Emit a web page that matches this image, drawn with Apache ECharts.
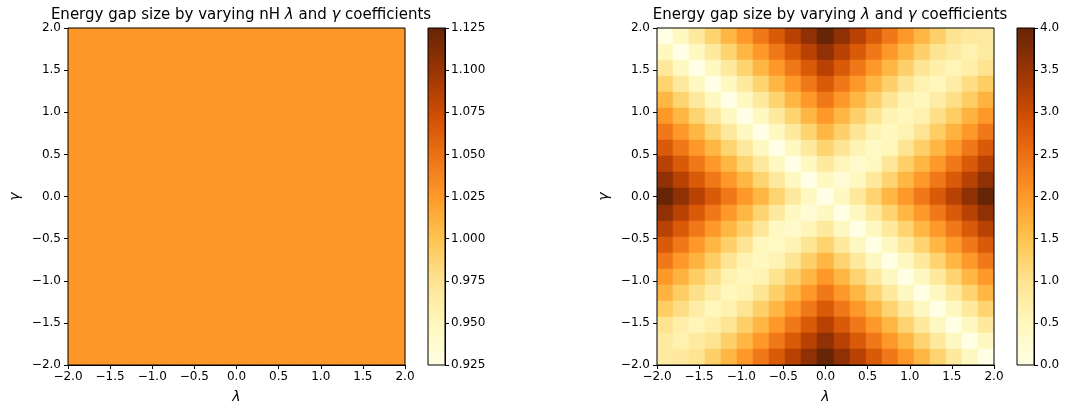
<!DOCTYPE html>
<html>
<head>
<meta charset="utf-8">
<script src="https://cdn.jsdelivr.net/npm/echarts@6/dist/echarts.min.js"></script>
<style>
  html, body { margin: 0; padding: 0; background: #ffffff; }
  #chart { width: 1072px; height: 404px; }
</style>
</head>
<body>
<div id="chart"></div>
<script>
// Coefficient range shared by both maps (cell edges at -2 and 2, 21 cells per side)
const coeffRange = [-2, 2];
const cellsPerSide = 21;
const axisTickValues = [-2.0, -1.5, -1.0, -0.5, 0.0, 0.5, 1.0, 1.5, 2.0];

// Colour bar scales
const nhBarTicks = [0.925, 0.950, 0.975, 1.000, 1.025, 1.050, 1.075, 1.100, 1.125];
const gapBarTicks = [0.0, 0.5, 1.0, 1.5, 2.0, 2.5, 3.0, 3.5, 4.0];

// Titles
const titleNH = 'Energy gap size by varying nH {i|λ} and {i|γ} coefficients';
const titleGap = 'Energy gap size by varying {i|λ} and {i|γ} coefficients';

// Gap of the nH model: rows run from γ = 2 (top) down to γ = -2, columns from λ = -2 to 2
const nhGapRows = [
  [1.026,1.026,1.026,1.026,1.026,1.026,1.026,1.026,1.026,1.026,1.026,1.026,1.026,1.026,1.026,1.026,1.026,1.026,1.026,1.026,1.026],
  [1.026,1.026,1.0257,1.026,1.026,1.026,1.026,1.026,1.0257,1.026,1.026,1.026,1.026,1.026,1.026,1.026,1.026,1.026,1.026,1.026,1.026],
  [1.026,1.026,1.026,1.026,1.0257,1.026,1.026,1.026,1.026,1.026,1.026,1.026,1.026,1.026,1.026,1.026,1.026,1.026,1.026,1.026,1.026],
  [1.026,1.026,1.026,1.026,1.026,1.026,1.026,1.026,1.026,1.026,1.026,1.026,1.026,1.026,1.026,1.026,1.026,1.026,1.026,1.026,1.026],
  [1.026,1.026,1.0257,1.026,1.026,1.026,1.026,1.026,1.026,1.026,1.026,1.026,1.0257,1.0257,1.026,1.026,1.026,1.026,1.026,1.026,1.026],
  [1.026,1.026,1.026,1.026,1.026,1.026,1.026,1.026,1.026,1.026,1.026,1.026,1.0257,1.026,1.026,1.026,1.026,1.026,1.026,1.026,1.026],
  [1.026,1.0257,1.026,1.026,1.026,1.0257,1.026,1.026,1.026,1.026,1.026,1.026,1.026,1.026,1.026,1.026,1.026,1.026,1.026,1.026,1.026],
  [1.026,1.026,1.026,1.026,1.026,1.026,1.026,1.026,1.026,1.026,1.026,1.026,1.026,1.026,1.026,1.026,1.026,1.026,1.026,1.026,1.026],
  [1.026,1.026,1.026,1.026,1.026,1.026,1.026,1.026,1.026,1.026,1.0257,1.026,1.026,1.026,1.026,1.026,1.026,1.026,1.026,1.026,1.026],
  [1.026,1.0257,1.026,1.026,1.0257,1.026,1.026,1.026,1.026,1.026,1.026,1.026,1.026,1.026,1.026,1.026,1.026,1.0257,1.026,1.026,1.026],
  [1.026,1.026,1.026,1.026,1.026,1.026,1.0257,1.026,1.026,1.026,1.026,1.026,1.026,1.026,1.026,1.026,1.026,1.026,1.026,1.026,1.026],
  [1.026,1.026,1.026,1.026,1.026,1.026,1.0257,1.026,1.026,1.026,1.026,1.026,1.026,1.026,1.026,1.026,1.026,1.026,1.026,1.026,1.026],
  [1.026,1.026,1.026,1.026,1.026,1.0257,1.026,1.026,1.026,1.026,1.026,1.026,1.026,1.026,1.026,1.026,1.026,1.026,1.026,1.026,1.026],
  [1.026,1.026,1.026,1.026,1.026,1.026,1.026,1.026,1.026,1.026,1.026,1.026,1.0257,1.0257,1.026,1.026,1.026,1.026,1.026,1.026,1.026],
  [1.026,1.026,1.026,1.026,1.026,1.026,1.026,1.026,1.026,1.026,1.026,1.026,1.0257,1.026,1.026,1.026,1.026,1.026,1.026,1.026,1.026],
  [1.026,1.026,1.026,1.026,1.026,1.026,1.026,1.0257,1.026,1.026,1.026,1.026,1.026,1.026,1.026,1.026,1.026,1.026,1.026,1.026,1.026],
  [1.026,1.026,1.026,1.026,1.026,1.026,1.026,1.026,1.0257,1.0257,1.026,1.026,1.026,1.026,1.026,1.026,1.026,1.026,1.026,1.026,1.026],
  [1.026,1.026,1.026,1.026,1.026,1.026,1.026,1.026,1.026,1.026,1.026,1.026,1.026,1.026,1.026,1.026,1.0257,1.026,1.026,1.026,1.026],
  [1.026,1.026,1.026,1.026,1.026,1.026,1.026,1.026,1.026,1.026,1.026,1.026,1.026,1.026,1.026,1.026,1.026,1.026,1.026,1.026,1.026],
  [1.026,1.026,1.026,1.026,1.026,1.026,1.026,1.026,1.026,1.026,1.026,1.026,1.026,1.026,1.026,1.026,1.026,1.026,1.026,1.026,1.026],
  [1.026,1.026,1.026,1.026,1.026,1.026,1.026,1.026,1.026,1.026,1.026,1.026,1.026,1.026,1.026,1.026,1.026,1.026,1.026,1.026,1.026]
];

// Gap of the λ/γ model: rows run from γ = 2 (top) down to γ = -2, columns from λ = -2 to 2
const gapRows = [
  [0.0,0.45,0.85,1.25,1.65,2.0,2.4,2.8,3.2,3.6,4.0,3.6,3.2,2.8,2.4,2.0,1.65,1.3,1.0,0.85,0.8],
  [0.45,0.0,0.45,0.85,1.25,1.65,2.0,2.4,2.8,3.2,3.6,3.2,2.8,2.4,2.0,1.65,1.3,1.0,0.8,0.65,0.8],
  [0.85,0.45,0.0,0.45,0.85,1.25,1.65,2.0,2.4,2.8,3.2,2.8,2.4,2.0,1.65,1.3,0.95,0.7,0.55,0.7,1.0],
  [1.25,0.85,0.45,0.0,0.45,0.85,1.25,1.65,2.0,2.4,2.8,2.4,2.0,1.65,1.3,0.95,0.65,0.5,0.75,1.1,1.35],
  [1.65,1.25,0.85,0.45,0.0,0.45,0.85,1.25,1.65,2.0,2.4,2.0,1.65,1.3,0.95,0.6,0.5,0.75,1.05,1.35,1.7],
  [2.0,1.65,1.25,0.85,0.45,0.0,0.45,0.85,1.25,1.65,2.0,1.65,1.3,1.0,0.6,0.5,0.65,1.05,1.35,1.7,2.0],
  [2.4,2.0,1.65,1.25,0.85,0.45,0.0,0.45,0.85,1.25,1.65,1.3,0.95,0.6,0.45,0.6,0.95,1.35,1.7,2.0,2.4],
  [2.8,2.4,2.0,1.65,1.25,0.85,0.45,0.0,0.45,0.85,1.25,0.95,0.6,0.4,0.5,0.95,1.3,1.65,2.0,2.4,2.8],
  [3.2,2.8,2.4,2.0,1.65,1.25,0.85,0.45,0.0,0.45,0.85,0.55,0.3,0.45,0.9,1.3,1.65,2.0,2.4,2.8,3.2],
  [3.6,3.2,2.8,2.4,2.0,1.65,1.25,0.85,0.45,0.0,0.45,0.2,0.45,0.85,1.25,1.65,2.0,2.4,2.8,3.2,3.6],
  [4.0,3.6,3.2,2.8,2.4,2.0,1.65,1.25,0.85,0.45,0.0,0.45,0.85,1.25,1.65,2.0,2.4,2.8,3.2,3.6,4.0],
  [3.6,3.2,2.8,2.4,2.0,1.65,1.25,0.85,0.45,0.2,0.45,0.0,0.45,0.85,1.25,1.65,2.0,2.4,2.8,3.2,3.6],
  [3.2,2.8,2.4,2.0,1.65,1.3,0.9,0.45,0.3,0.55,0.85,0.45,0.0,0.45,0.85,1.25,1.65,2.0,2.4,2.8,3.2],
  [2.8,2.4,2.0,1.65,1.3,0.95,0.5,0.4,0.6,0.95,1.25,0.85,0.45,0.0,0.45,0.85,1.25,1.65,2.0,2.4,2.8],
  [2.4,2.0,1.7,1.35,0.95,0.6,0.45,0.6,0.95,1.3,1.65,1.25,0.85,0.45,0.0,0.45,0.85,1.25,1.65,2.0,2.4],
  [2.0,1.7,1.35,1.05,0.65,0.5,0.6,1.0,1.3,1.65,2.0,1.65,1.25,0.85,0.45,0.0,0.45,0.85,1.25,1.65,2.0],
  [1.7,1.35,1.05,0.75,0.5,0.6,0.95,1.3,1.65,2.0,2.4,2.0,1.65,1.25,0.85,0.45,0.0,0.45,0.85,1.25,1.65],
  [1.35,1.1,0.75,0.5,0.65,0.95,1.3,1.65,2.0,2.4,2.8,2.4,2.0,1.65,1.25,0.85,0.45,0.0,0.45,0.85,1.25],
  [1.0,0.7,0.55,0.7,0.95,1.3,1.65,2.0,2.4,2.8,3.2,2.8,2.4,2.0,1.65,1.25,0.85,0.45,0.0,0.45,0.85],
  [0.8,0.65,0.8,1.0,1.3,1.65,2.0,2.4,2.8,3.2,3.6,3.2,2.8,2.4,2.0,1.65,1.25,0.85,0.45,0.0,0.45],
  [0.8,0.85,1.0,1.3,1.65,2.0,2.4,2.8,3.2,3.6,4.0,3.6,3.2,2.8,2.4,2.0,1.65,1.25,0.85,0.45,0.0]
];

// YlOrBr colour map, low to high
const ylOrBr = ['#ffffe5','#fff7bc','#fee391','#fec44f','#fe9929','#ec7014','#cc4c02','#993404','#662506'];

const FONT = '"DejaVu Sans", sans-serif';
const INK = '#000000';
const TICK_SIZE = 12;
const TITLE_SIZE = 15;
const NAME_SIZE = 14;

const cellSpan = (coeffRange[1] - coeffRange[0]) / cellsPerSide;
const halfCell = cellSpan / 2;

// Turn a row-major grid into [λ centre, γ centre, value] items
function toCells(rows) {
  const out = [];
  rows.forEach((row, r) => {
    const gamma = coeffRange[1] - (r + 0.5) * cellSpan;
    row.forEach((v, c) => {
      const lambda = coeffRange[0] + (c + 0.5) * cellSpan;
      out.push([lambda, gamma, v]);
    });
  });
  return out;
}

function cellRenderer(params, api) {
  const cx = api.value(0), cy = api.value(1);
  const a = api.coord([cx - halfCell, cy + halfCell]);
  const b = api.coord([cx + halfCell, cy - halfCell]);
  const x0 = Math.round(a[0]), y0 = Math.round(a[1]);
  const x1 = Math.round(b[0]), y1 = Math.round(b[1]);
  const color = api.visual('color');
  return {
    type: 'rect',
    shape: { x: x0, y: y0, width: x1 - x0, height: y1 - y0 },
    style: { fill: color, stroke: color, lineWidth: 0.5 }
  };
}

function colorbarRenderer(params, api) {
  const top = api.coord([0, api.value(2)]);
  const bottom = api.coord([1, api.value(1)]);
  const stops = ylOrBr.slice().reverse().map((c, i, arr) => ({ offset: i / (arr.length - 1), color: c }));
  return {
    type: 'rect',
    shape: { x: top[0], y: top[1], width: bottom[0] - top[0], height: bottom[1] - top[1] },
    style: { fill: new echarts.graphic.LinearGradient(0, 0, 0, 1, stops) }
  };
}

const minus = s => s.replace('-', '\u2212');
const fmt1 = v => minus(Number(v).toFixed(1));
const fmt3 = v => minus(Number(v).toFixed(3));

const tickStep = axisTickValues[1] - axisTickValues[0];

function heatX(gridIndex) {
  return {
    type: 'value', gridIndex, min: coeffRange[0], max: coeffRange[1], interval: tickStep,
    position: 'bottom',
    name: 'λ', nameLocation: 'middle', nameGap: 25,
    nameTextStyle: { fontFamily: FONT, fontSize: NAME_SIZE, fontStyle: 'italic', color: INK },
    axisLine: { show: true, onZero: false, lineStyle: { color: INK, width: 1 } },
    axisTick: { show: true, inside: false, length: 4, lineStyle: { color: INK } },
    axisLabel: { show: true, margin: 6, fontFamily: FONT, fontSize: TICK_SIZE, color: INK, formatter: fmt1 },
    splitLine: { show: false }
  };
}
function heatY(gridIndex) {
  return {
    type: 'value', gridIndex, min: coeffRange[0], max: coeffRange[1], interval: tickStep,
    position: 'left',
    name: 'γ', nameLocation: 'middle', nameGap: 46, nameRotate: 90,
    nameTextStyle: { fontFamily: FONT, fontSize: NAME_SIZE, fontStyle: 'italic', color: INK },
    axisLine: { show: true, onZero: false, lineStyle: { color: INK, width: 1 } },
    axisTick: { show: true, inside: false, length: 4, lineStyle: { color: INK } },
    axisLabel: { show: true, margin: 7, fontFamily: FONT, fontSize: TICK_SIZE, color: INK, formatter: fmt1 },
    splitLine: { show: false }
  };
}
function barX(gridIndex) {
  return { type: 'value', gridIndex, min: 0, max: 1, show: false };
}
function barY(gridIndex, ticks, formatter) {
  return {
    type: 'value', gridIndex, min: ticks[0], max: ticks[ticks.length - 1],
    interval: ticks[1] - ticks[0], position: 'right',
    axisLine: { show: true, onZero: false, lineStyle: { color: INK, width: 1 } },
    axisTick: { show: true, inside: false, length: 4, lineStyle: { color: INK } },
    axisLabel: { show: true, margin: 6, fontFamily: FONT, fontSize: TICK_SIZE, color: INK, formatter,
                 showMinLabel: true, showMaxLabel: true },
    splitLine: { show: false }
  };
}

const boxed = {
  show: true, borderColor: INK, borderWidth: 1, backgroundColor: 'transparent', z: 10,
  containLabel: false, outerBoundsMode: 'none'
};

function titleStyle() {
  return { fontFamily: FONT, fontSize: TITLE_SIZE, fontWeight: 'normal', color: INK,
           rich: { i: { fontFamily: FONT, fontSize: TITLE_SIZE, fontStyle: 'italic', color: INK } } };
}

const option = {
  backgroundColor: '#ffffff',
  animation: false,
  title: [
    { text: titleNH, left: 236, top: 3, textAlign: 'center', textStyle: titleStyle() },
    { text: titleGap, left: 825, top: 3, textAlign: 'center', textStyle: titleStyle() }
  ],
  grid: [
    Object.assign({ left: 68, top: 28, width: 337, height: 337 }, boxed),
    Object.assign({ left: 428, top: 28, width: 17, height: 337 }, boxed),
    Object.assign({ left: 657, top: 28, width: 337, height: 337 }, boxed),
    Object.assign({ left: 1017, top: 28, width: 17, height: 337 }, boxed)
  ],
  xAxis: [heatX(0), barX(1), heatX(2), barX(3)],
  yAxis: [heatY(0), barY(1, nhBarTicks, fmt3), heatY(2), barY(3, gapBarTicks, fmt1)],
  visualMap: [
    { type: 'continuous', show: false, seriesIndex: 0, dimension: 2,
      min: nhBarTicks[0], max: nhBarTicks[nhBarTicks.length - 1], inRange: { color: ylOrBr } },
    { type: 'continuous', show: false, seriesIndex: 2, dimension: 2,
      min: gapBarTicks[0], max: gapBarTicks[gapBarTicks.length - 1], inRange: { color: ylOrBr } }
  ],
  series: [
    { type: 'custom', name: 'nH gap', xAxisIndex: 0, yAxisIndex: 0, renderItem: cellRenderer,
      encode: { x: 0, y: 1 }, data: toCells(nhGapRows), clip: true, z: 2 },
    { type: 'custom', name: 'nH scale', xAxisIndex: 1, yAxisIndex: 1, renderItem: colorbarRenderer,
      encode: { x: 0, y: [1, 2] }, data: [[0.5, nhBarTicks[0], nhBarTicks[nhBarTicks.length - 1]]], z: 2 },
    { type: 'custom', name: 'gap', xAxisIndex: 2, yAxisIndex: 2, renderItem: cellRenderer,
      encode: { x: 0, y: 1 }, data: toCells(gapRows), clip: true, z: 2 },
    { type: 'custom', name: 'gap scale', xAxisIndex: 3, yAxisIndex: 3, renderItem: colorbarRenderer,
      encode: { x: 0, y: [1, 2] }, data: [[0.5, gapBarTicks[0], gapBarTicks[gapBarTicks.length - 1]]], z: 2 }
  ]
};

const chart = echarts.init(document.getElementById('chart'), null, { renderer: 'canvas' });
chart.setOption(option);
</script>
</body>
</html>
